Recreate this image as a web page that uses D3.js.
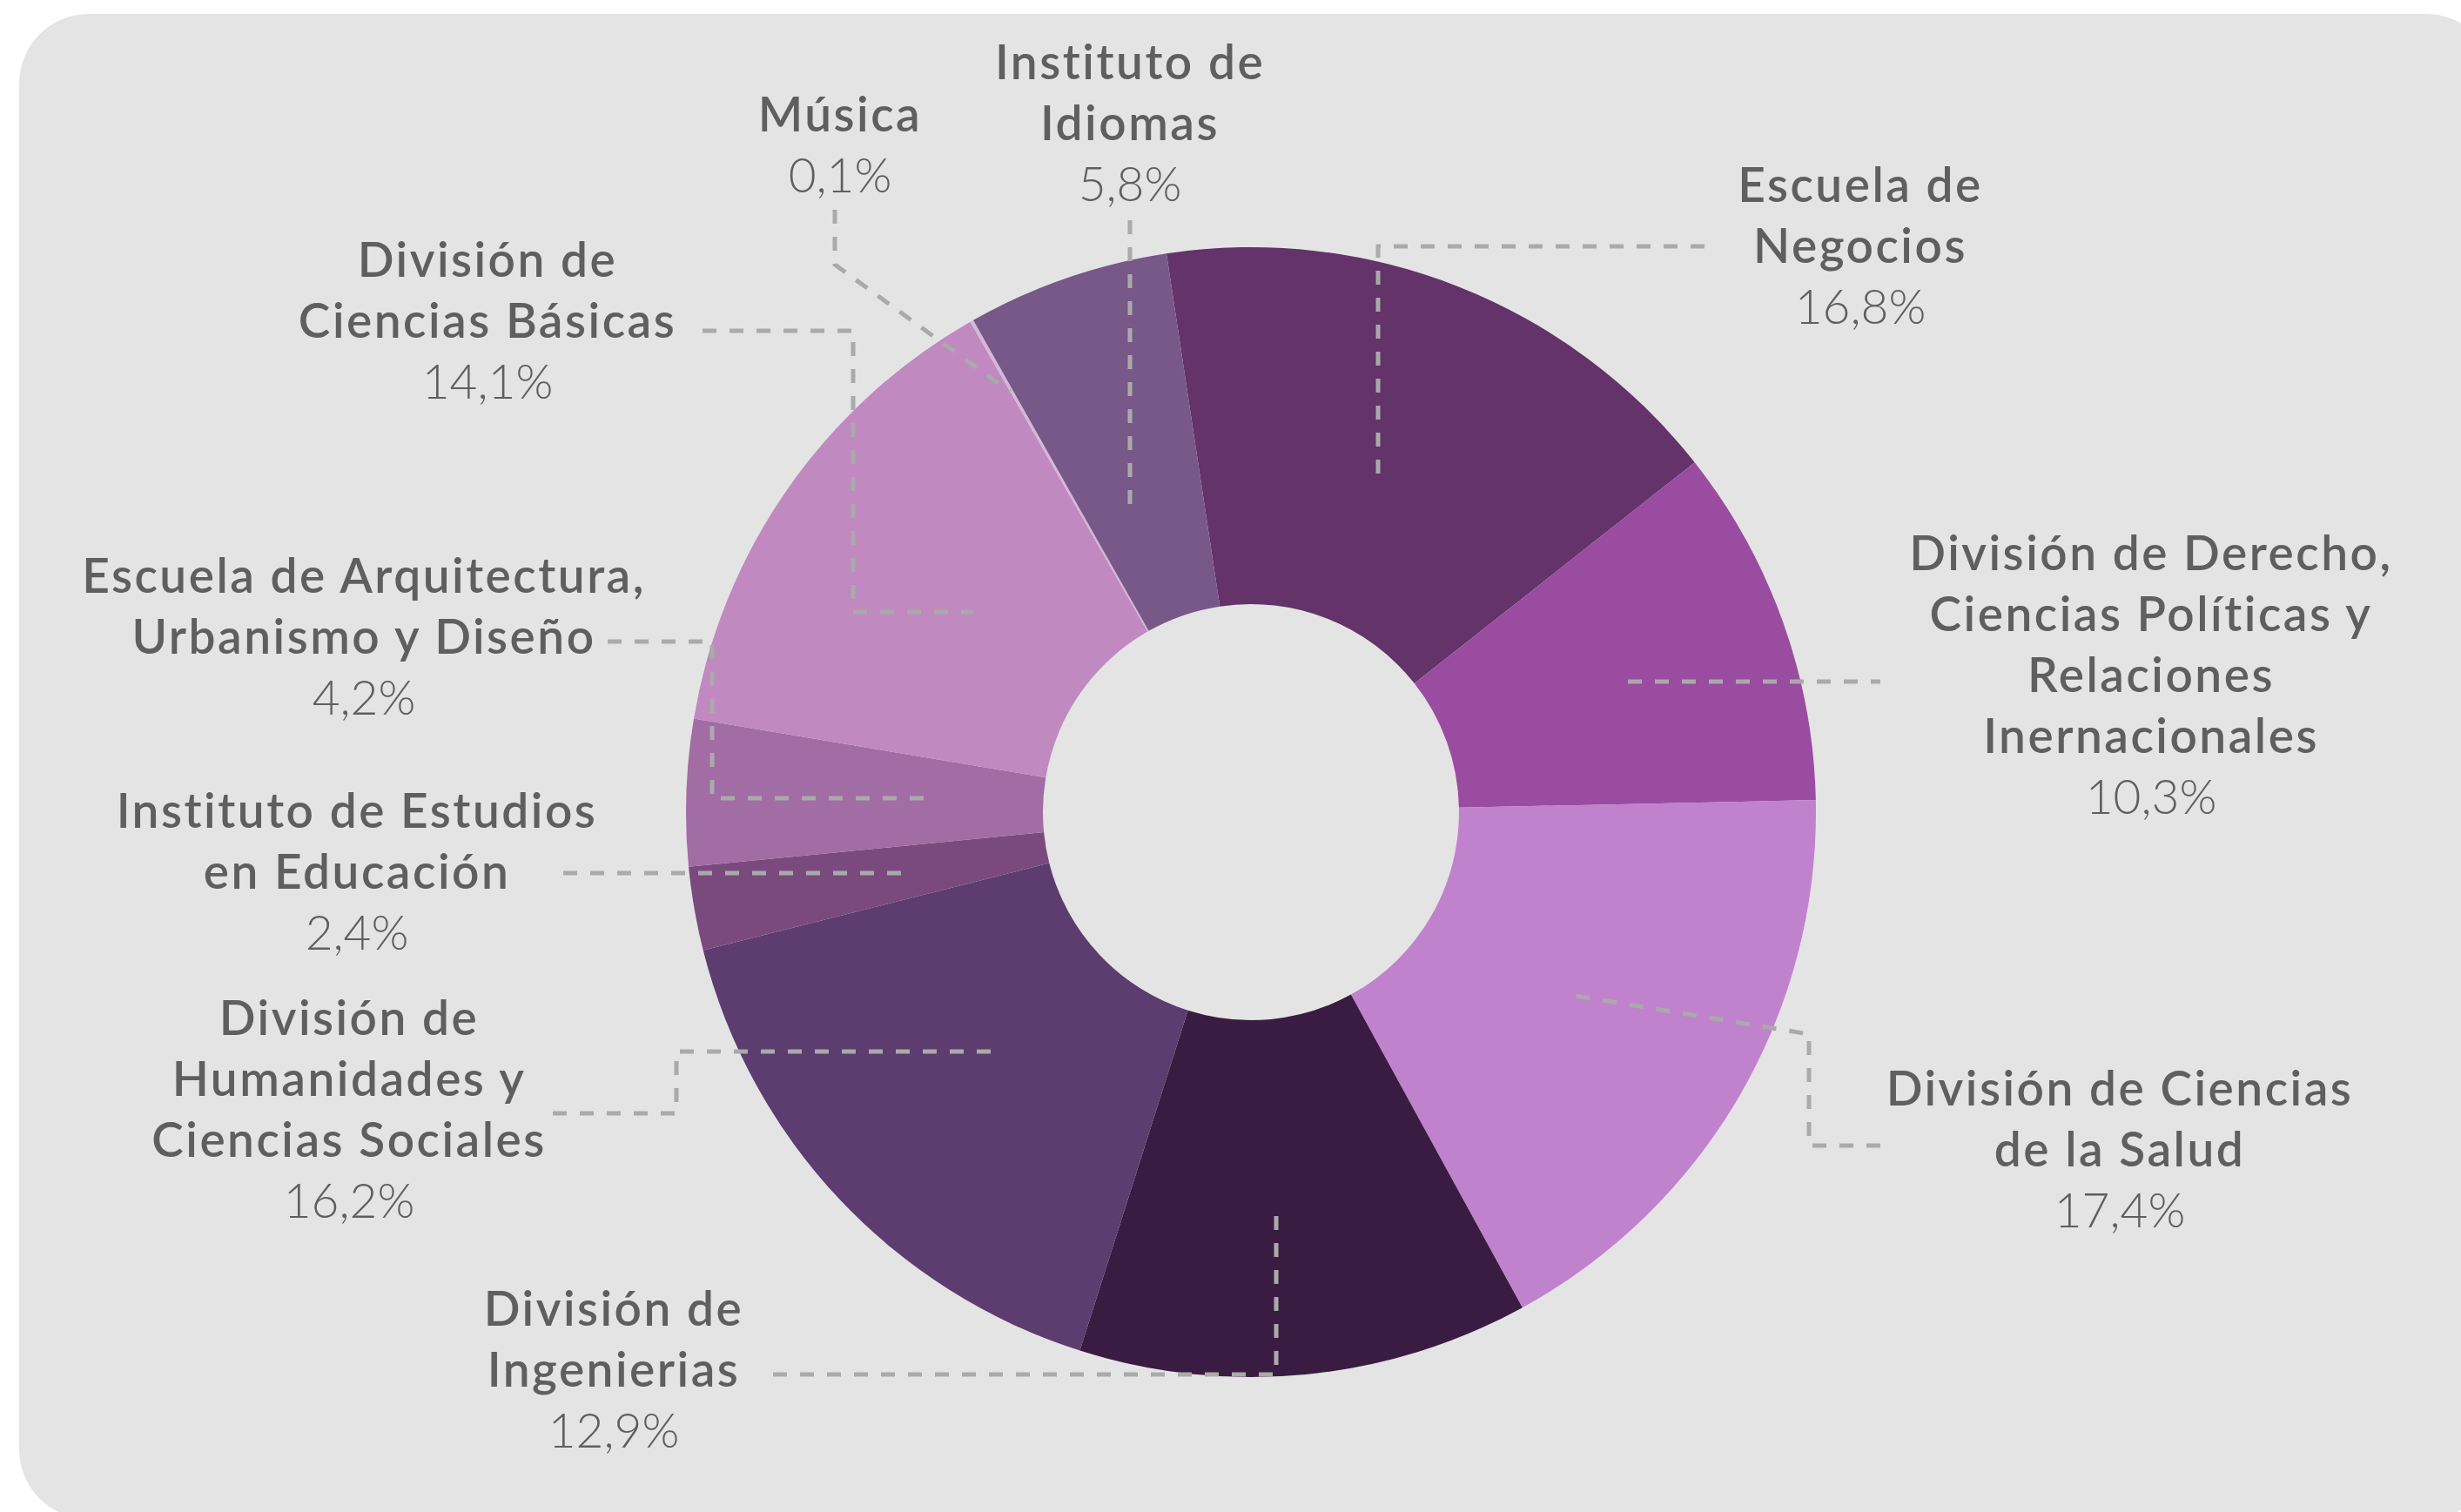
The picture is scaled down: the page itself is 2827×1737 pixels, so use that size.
<!DOCTYPE html>
<html>
<head>
<meta charset="utf-8">
<script src="https://cdn.jsdelivr.net/npm/d3@7"></script>
<style>
  body { margin: 0; background: #ffffff; }
  svg { display: block; }
  .name { font-family: Lato, "Noto Sans", sans-serif; font-weight: 600; fill: #5f5f5f; letter-spacing: 2.5px; }
  .pct { font-family: Lato, "Noto Sans", sans-serif; font-weight: 300; fill: #5f5f5f; }
</style>
</head>
<body>
<div id="chart"></div>
<script>
// data, clockwise from the top
const categories = [
  'Escuela de Negocios',
  'División de Derecho, Ciencias Políticas y Relaciones Inernacionales',
  'División de Ciencias de la Salud',
  'División de Ingenierias',
  'División de Humanidades y Ciencias Sociales',
  'Instituto de Estudios en Educación',
  'Escuela de Arquitectura, Urbanismo y Diseño',
  'División de Ciencias Básicas',
  'Música',
  'Instituto de Idiomas'
]
const values = [16.8, 10.3, 17.4, 12.9, 16.2, 2.4, 4.2, 14.1, 0.1, 5.8]
const nameLines = [
  ['Escuela de', 'Negocios'],
  ['División de Derecho,', 'Ciencias Políticas y', 'Relaciones', 'Inernacionales'],
  ['División de Ciencias', 'de la Salud'],
  ['División de', 'Ingenierias'],
  ['División de', 'Humanidades y', 'Ciencias Sociales'],
  ['Instituto de Estudios', 'en Educación'],
  ['Escuela de Arquitectura,', 'Urbanismo y Diseño'],
  ['División de', 'Ciencias Básicas'],
  ['Música'],
  ['Instituto de', 'Idiomas']
]
const colors = ['#633369', '#9a4ca1', '#c182cd', '#3a1c42', '#5d3c6f',
                '#7a4a7e', '#a26ca4', '#c089c0', '#d6b6da', '#775888']

// label anchors (x centre, first baseline) and leader lines
const labelPos = [
  [2137, 232], [2471, 655], [2435, 1270], [705, 1523], [401, 1189],
  [410, 951], [418, 681], [560, 318], [965, 151], [1298, 91]
]
const leaders = [
  'M1958,283 H1583 V555',
  'M1870,783 H2160',
  'M2160,1316 H2078 V1188 L1804,1143',
  'M888,1579 H1466 V1394',
  'M635,1279 H777 V1208 H1143',
  'M647,1003 H1037',
  'M698,737 H818 V917 H1071',
  'M807,380 H980 V703 H1118',
  'M959,241 V304 L1160,450',
  'M1298,253 V582'
]

const w = 2827,
      h = 1737,
      cx = 1437,
      cy = 933,
      outerR = 649,
      innerR = 239,
      lineH = 70,
      fontSize = 55

const svg = d3.select('#chart')
              .append('svg')
              .attr('width', w)
              .attr('height', h)

svg.append('rect')
   .attr('x', 22)
   .attr('y', 16)
   .attr('width', 2845)
   .attr('height', 1729)
   .attr('rx', 80)
   .attr('fill', '#e4e4e4')

const pie = d3.pie()
              .sort(null)
              .value((d) => d)
              .startAngle(-8.6 * Math.PI / 180)
              .endAngle(-8.6 * Math.PI / 180 + 2 * Math.PI)

const arc = d3.arc()
              .innerRadius(innerR)
              .outerRadius(outerR)

svg.append('g')
   .attr('transform', 'translate(' + cx + ',' + cy + ')')
   .selectAll('path')
   .data(pie(values))
   .enter()
   .append('path')
   .attr('d', arc)
   .attr('fill', (d, i) => colors[i])

svg.append('g')
   .selectAll('path')
   .data(leaders)
   .enter()
   .append('path')
   .attr('d', (d) => d)
   .attr('fill', 'none')
   .attr('stroke', '#aaaaaa')
   .attr('stroke-width', 5)
   .attr('stroke-dasharray', '16,15')

const fmt = (v) => v.toFixed(1).replace('.', ',') + '%'

const labels = svg.append('g')
                  .selectAll('g')
                  .data(categories)
                  .enter()
                  .append('g')
                  .attr('transform', (d, i) => 'translate(' + labelPos[i][0] + ',' + labelPos[i][1] + ')')

labels.each(function(d, i) {
  const g = d3.select(this)
  nameLines[i].forEach((line, j) => {
    g.append('text')
     .attr('class', 'name')
     .attr('y', j * lineH)
     .attr('text-anchor', 'middle')
     .attr('font-size', fontSize)
     .text(line)
  })
  g.append('text')
   .attr('class', 'pct')
   .attr('y', nameLines[i].length * lineH)
   .attr('text-anchor', 'middle')
   .attr('font-size', fontSize)
   .text(fmt(values[i]))
})
</script>
</body>
</html>
